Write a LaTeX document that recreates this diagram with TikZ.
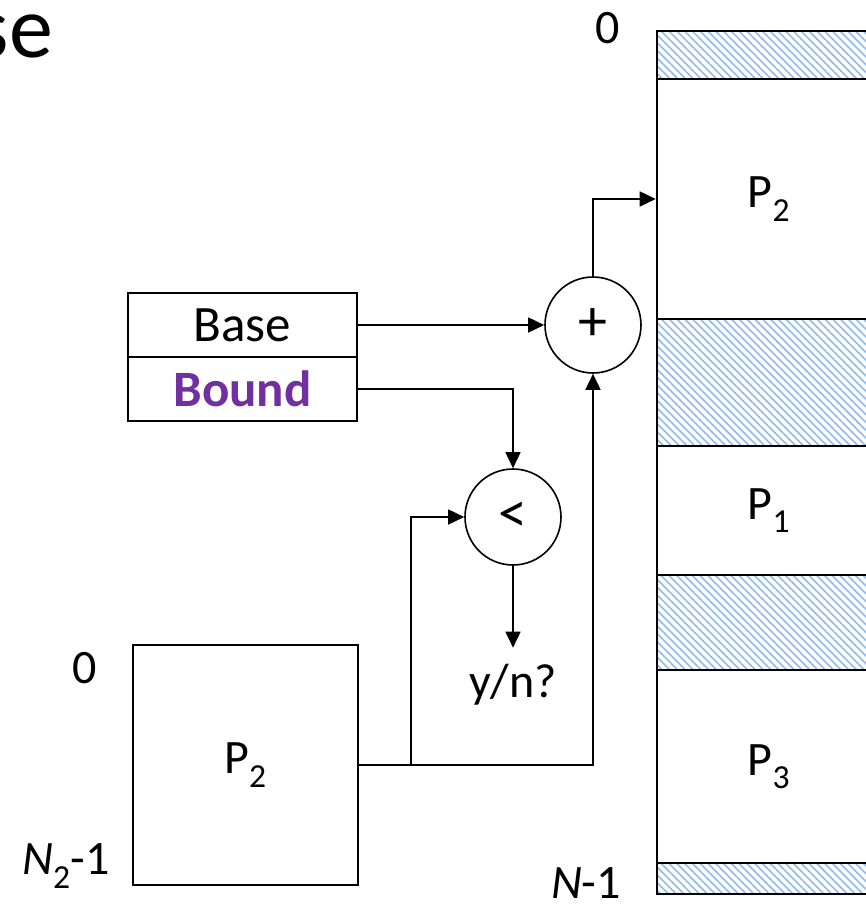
\documentclass[tikz,border=0pt]{standalone}
\usepackage{fontspec}
\setmainfont{Carlito}
\usetikzlibrary{positioning,arrows.meta,patterns.meta}
\definecolor{BoundPurple}{RGB}{112,48,160}
\definecolor{HatchBlue}{RGB}{145,186,236}
\tikzset{
  txt/.style={font=\fontsize{48}{58}\selectfont,inner sep=0pt},
  reg/.style={draw,line width=1.6pt,minimum width=229pt,minimum height=64pt,inner sep=0pt,
    font=\fontsize{51}{60}\selectfont},
  op/.style={circle,draw,line width=1.6pt,minimum size=96pt,inner sep=0pt,font=\fontsize{58}{66}\selectfont},
  seg/.style={draw,line width=2.6pt,minimum width=224pt,inner sep=0pt,font=\fontsize{48}{58}\selectfont},
  gap/.style={seg,pattern={Lines[angle=-45,distance=5.5pt,line width=1.6pt]},pattern color=HatchBlue},
  wire/.style={line width=1.6pt,-{Triangle[length=16pt,width=15pt]}},
}
\begin{document}
\begin{tikzpicture}[x=1pt,y=-1pt]
\useasboundingbox (0,0) rectangle (866,910);
\clip (0,0) rectangle (866,910);
% physical memory
\node[gap,minimum height=48pt] (gap1) at (769,55) {};
\node[seg,minimum height=240pt] (mem2) at (769,199) {P\textsubscript{2}};
\node[gap,minimum height=127pt] (gap2) at (769,382.5) {};
\node[seg,minimum height=129pt] (mem1) at (769,510.5) {P\textsubscript{1}};
\node[gap,minimum height=95pt] (gap3) at (769,622.5) {};
\node[seg,minimum height=193pt] (mem3) at (769,766.5) {P\textsubscript{3}};
\node[gap,minimum height=31pt] (gap4) at (769,878.5) {};
\node[txt] (top0) at (608,28) {0};
\node[txt] (botN) at (586,883) {\textit{N}-1};
% registers and address space
\node[txt,anchor=base east,font=\fontsize{88}{100}\selectfont] (title) at (53,57) {se};
\node[reg] (base) at (242.5,325) {Base};
\node[reg,text=BoundPurple,font=\fontsize{51}{60}\selectfont\bfseries] (bound) at (242.5,389) {Bound};
\node[reg,minimum width=225pt,minimum height=240pt,font=\fontsize{48}{58}\selectfont] (proc) at (245.5,765) {P\textsubscript{2}};
\node[txt] (proc0) at (85,668) {0};
\node[txt] (procN) at (66,866) {\textit{N}\textsubscript{2}-1};
% checks
\node[op] (add) at (593,325) {+};
\node[op] (lt) at (513,517) {<};
\node[txt,anchor=base,outer ysep=16pt] (ans) at (513,697) {y/n?};
\coordinate (split) at (411,765);
\draw[wire] (base.east) -- (add.west);
\draw[wire] (bound.east) -| (lt.north);
\draw[wire] (proc.east) -| (add.south);
\draw[wire] (split) |- (lt.west);
\draw[wire] (lt.south) -- (ans.north);
\draw[wire] (add.north) |- (mem2.west);
\end{tikzpicture}
\end{document}
